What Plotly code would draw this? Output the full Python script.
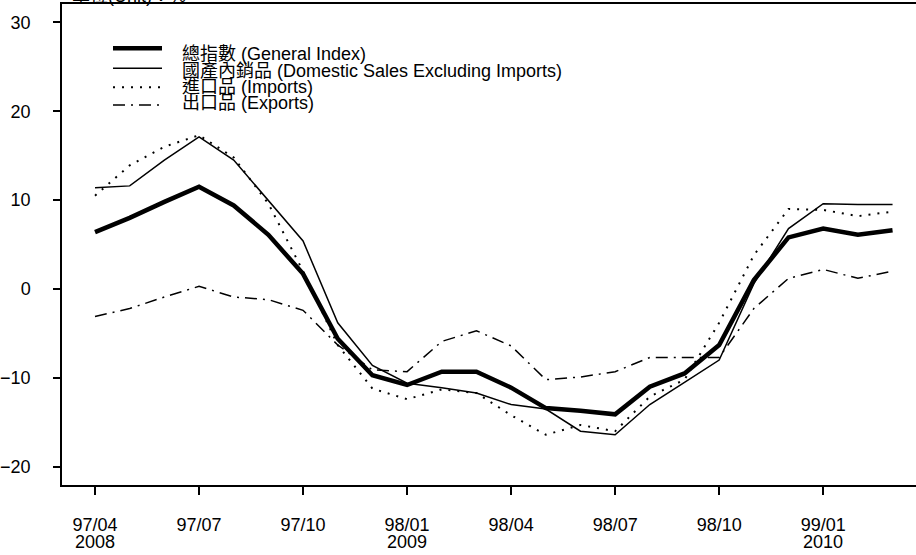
import plotly.graph_objects as go

months = ["97/04", "97/05", "97/06", "97/07", "97/08", "97/09", "97/10", "97/11", "97/12",
          "98/01", "98/02", "98/03", "98/04", "98/05", "98/06", "98/07", "98/08", "98/09",
          "98/10", "98/11", "98/12", "99/01", "99/02", "99/03"]

general = [6.4, 8.0, 9.8, 11.5, 9.4, 6.1, 1.7, -5.6, -9.7, -10.8, -9.3, -9.3,
           -11.1, -13.4, -13.7, -14.1, -11.0, -9.5, -6.3, 1.0, 5.8, 6.8, 6.1, 6.6]
domestic = [11.4, 11.6, 14.5, 17.1, 14.5, 10.0, 5.4, -3.8, -8.6, -10.6, -11.1, -11.7,
            -13.0, -13.5, -16.0, -16.4, -13.0, -10.5, -8.0, 0.6, 6.8, 9.6, 9.5, 9.5]
imports = [10.5, 13.9, 16.0, 17.3, 14.8, 9.6, 2.0, -6.3, -11.2, -12.4, -11.3, -11.7,
           -14.2, -16.4, -15.3, -16.0, -12.1, -10.2, -3.8, 3.8, 9.0, 8.9, 8.2, 8.7]
exports = [-3.1, -2.2, -0.9, 0.3, -0.9, -1.2, -2.4, -6.3, -9.1, -9.3, -5.9, -4.7,
           -6.4, -10.2, -9.9, -9.3, -7.7, -7.7, -7.7, -2.2, 1.2, 2.2, 1.2, 2.0]

x_tick_labels = ["97/04", "97/07", "97/10", "98/01", "98/04", "98/07", "98/10", "99/01"]
year_labels = ["2008", "2009", "2010"]
year_months = ["97/04", "98/01", "99/01"]
y_ticks = [-20, -10, 0, 10, 20, 30]

series_names = ["總指數 (General Index)",
                "國產內銷品 (Domestic Sales Excluding Imports)",
                "進口品 (Imports)",
                "出口品 (Exports)"]

FONT = "Liberation Sans, Arial, Noto Sans CJK TC, sans-serif"

xs = list(range(len(months)))
styles = [dict(width=4.5, dash="solid"),
          dict(width=1.5, dash="solid"),
          dict(width=2, dash="2px,7px"),
          dict(width=1.5, dash="12px,6px,2px,6px")]

fig = go.Figure()
for name, vals, st in zip(series_names, [general, domestic, imports, exports], styles):
    fig.add_trace(go.Scatter(x=xs, y=vals, mode="lines", name=name,
                             line=dict(color="black", width=st["width"], dash=st["dash"]),
                             showlegend=False, hoverinfo="skip"))

# pixel helpers for layout (plot area extends past the right edge of the window)
L, T, B, W, H = 62, 4, 70, 930, 555
PW = W - L
PH = H - T - B


def px(xp):
    return (xp - L) / PW


def py(yp):
    return 1 - (yp - T) / PH


# manual legend
leg_line_y = [48.3, 68.3, 87.3, 105]
leg_text_y = [54.5, 70.8, 87.1, 103.4]
shapes = []
annotations = []
for st, ly, ty, name in zip(styles, leg_line_y, leg_text_y, series_names):
    shapes.append(dict(type="line", xref="paper", yref="paper",
                       x0=px(113), x1=px(162), y0=py(ly), y1=py(ly),
                       line=dict(color="black", width=st["width"], dash=st["dash"])))
    annotations.append(dict(xref="paper", yref="paper", x=px(180), y=py(ty),
                            xanchor="left", yanchor="middle", showarrow=False,
                            text=name, font=dict(size=18, family=FONT, color="black")))

# years under tick labels
for ym, yl in zip(year_months, year_labels):
    annotations.append(dict(xref="x", yref="paper", x=months.index(ym), y=py(541.5),
                            xanchor="center", yanchor="middle", showarrow=False,
                            text=yl, font=dict(size=18, family=FONT, color="black")))

# unit label (cut at top)
annotations.append(dict(xref="paper", yref="paper", x=px(70), y=py(-4),
                        xanchor="left", yanchor="middle", showarrow=False,
                        text="單位(Unit)：%", font=dict(size=18, family=FONT, color="black")))

fig.update_layout(
    width=W, height=H,
    margin=dict(l=L, r=0, t=T, b=B, pad=0),
    paper_bgcolor="white", plot_bgcolor="white",
    font=dict(family=FONT, size=18, color="black"),
    shapes=shapes, annotations=annotations,
    xaxis=dict(range=[-0.952, 24.08], tickmode="array",
               tickvals=[months.index(m) for m in x_tick_labels], ticktext=x_tick_labels,
               ticks="outside", ticklen=8, tickwidth=1.5, tickcolor="black",
               showline=True, linewidth=1.5, linecolor="black", mirror=True,
               showgrid=False, zeroline=False, ticklabelstandoff=15, automargin=False),
    yaxis=dict(range=[-22.05, 32.06], tickmode="array", tickvals=y_ticks,
               ticks="outside", ticklen=7, tickwidth=1.5, tickcolor="black",
               showline=True, linewidth=1.5, linecolor="black", mirror=False,
               showgrid=False, zeroline=False, ticklabelstandoff=19, automargin=False),
)

fig.write_html("out.html", config={"displayModeBar": False},
               post_script="document.body.style.margin='0';document.body.style.overflow='hidden';")
